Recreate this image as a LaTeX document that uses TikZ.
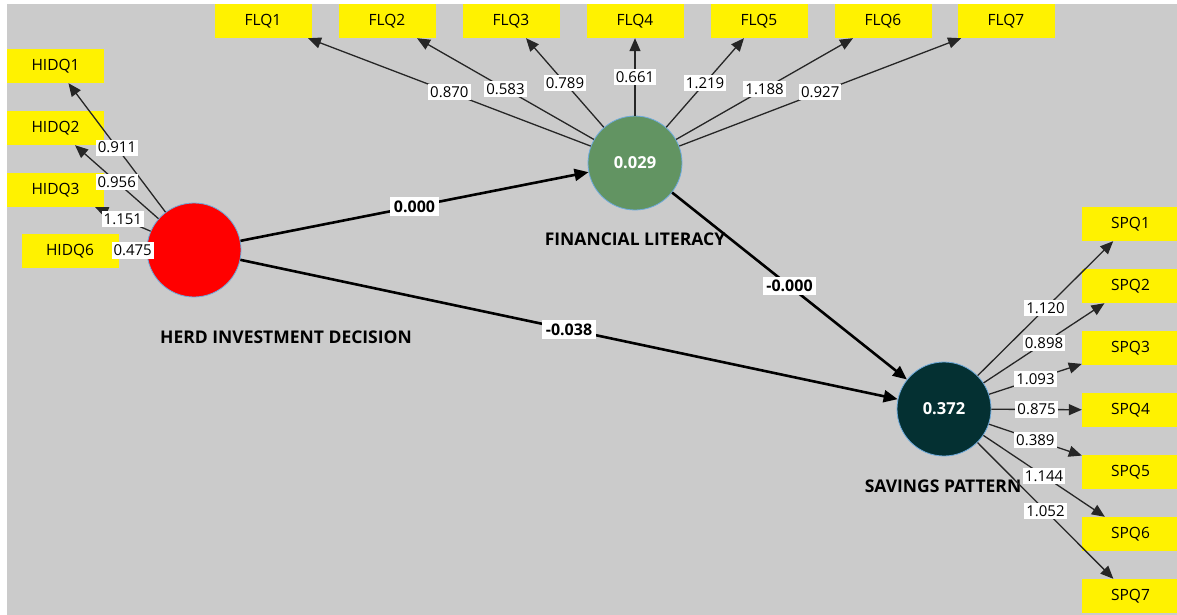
\documentclass[tikz,border=0pt]{standalone}
\usepackage{fontspec}
\setmainfont{Open Sans}
\usetikzlibrary{arrows.meta}
\definecolor{plsgrey}{RGB}{203,203,203}
\definecolor{plsgreen}{RGB}{98,148,98}
\definecolor{plsdark}{RGB}{4,48,50}
\definecolor{plsrim}{RGB}{110,170,220}
\tikzset{
  ind/.style={fill=yellow, minimum width=97pt, minimum height=34pt, inner sep=0pt,
    font=\fontsize{15.5}{18}\selectfont},
  lv/.style={circle, draw=plsrim, line width=0.8pt, minimum size=94pt, inner sep=0pt,
    text=white, font=\fontsize{16.5}{19}\selectfont\bfseries},
  lvname/.style={font=\fontsize{17.5}{20}\selectfont\bfseries},
  load/.style={draw=black!85, line width=1.3pt, -{Triangle[length=13pt,width=11pt]}},
  coef/.style={draw=black, line width=2.6pt, -{Triangle[length=14pt,width=12pt]}},
  val/.style={fill=white, inner xsep=2pt, inner ysep=2.5pt, font=\fontsize{15}{17}\selectfont},
  bval/.style={fill=white, inner sep=3.5pt, font=\fontsize{16}{18}\selectfont\bfseries}
}
\begin{document}
\begin{tikzpicture}[x=1pt, y=-1pt]

\useasboundingbox (0,0) rectangle (1177,615);
\fill[white] (0,0) rectangle (1177,615);
\fill[plsgrey] (7,4) rectangle (1177,615);

% latent variables
\node[lv, fill=red] (hid) at (194,250) {};
\node[lv, fill=plsgreen] (fl) at (635,163) {0.029};
\node[lv, fill=plsdark] (sp) at (944,409) {0.372};

\node[lvname] (hidname) at (286,337) {HERD INVESTMENT DECISION};
\node[lvname] (flname) at (635,239) {FINANCIAL LITERACY};
\node[lvname] (spname) at (943,486) {SAVINGS PATTERN};

% indicators
\node[ind] (hidq1) at (55.5,66) {HIDQ1};
\node[ind] (hidq2) at (55.5,128) {HIDQ2};
\node[ind] (hidq3) at (55.5,190) {HIDQ3};
\node[ind] (hidq6) at (70,251) {HIDQ6};

\node[ind] (flq1) at (263,21) {FLQ1};
\node[ind] (flq2) at (387,21) {FLQ2};
\node[ind] (flq3) at (511,21) {FLQ3};
\node[ind] (flq4) at (635,21) {FLQ4};
\node[ind] (flq5) at (759,21) {FLQ5};
\node[ind] (flq6) at (883,21) {FLQ6};
\node[ind] (flq7) at (1006,21) {FLQ7};

\node[ind] (spq1) at (1130.5,224) {SPQ1};
\node[ind] (spq2) at (1130.5,286) {SPQ2};
\node[ind] (spq3) at (1130.5,348) {SPQ3};
\node[ind] (spq4) at (1130.5,410) {SPQ4};
\node[ind] (spq5) at (1130.5,472) {SPQ5};
\node[ind] (spq6) at (1130.5,534) {SPQ6};
\node[ind] (spq7) at (1130.5,596) {SPQ7};

% outer loadings
\draw[load] (hid) -- node[val] {0.911} (hidq1);
\draw[load] (hid) -- node[val] {0.956} (hidq2);
\draw[load] (hid) -- node[val] {1.151} (hidq3);
\draw[load] (hid) -- node[val] {0.475} (hidq6);

\draw[load] (fl) -- node[val] {0.870} (flq1);
\draw[load] (fl) -- node[val] {0.583} (flq2);
\draw[load] (fl) -- node[val] {0.789} (flq3);
\draw[load] (fl) -- node[val] {0.661} (flq4);
\draw[load] (fl) -- node[val] {1.219} (flq5);
\draw[load] (fl) -- node[val] {1.188} (flq6);
\draw[load] (fl) -- node[val] {0.927} (flq7);

\draw[load] (sp) -- node[val] {1.120} (spq1);
\draw[load] (sp) -- node[val] {0.898} (spq2);
\draw[load] (sp) -- node[val] {1.093} (spq3);
\draw[load] (sp) -- node[val] {0.875} (spq4);
\draw[load] (sp) -- node[val] {0.389} (spq5);
\draw[load] (sp) -- node[val] {1.144} (spq6);
\draw[load] (sp) -- node[val] {1.052} (spq7);

% path coefficients
\draw[coef] (hid) -- node[bval] {0.000} (fl);
\draw[coef] (hid) -- node[bval] {-0.038} (sp);
\draw[coef] (fl) -- node[bval] {-0.000} (sp);

\end{tikzpicture}
\end{document}
